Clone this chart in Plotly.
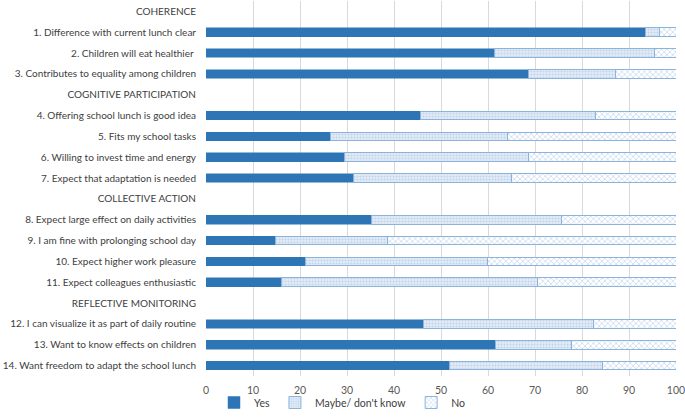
import plotly.graph_objects as go

categories = [
    "COHERENCE",
    "1. Difference with current lunch clear",
    "2. Children will eat healthier ",
    "3. Contributes to equality among children",
    "COGNITIVE PARTICIPATION",
    "4. Offering school lunch is good idea",
    "5. Fits my school tasks",
    "6. Willing to invest time and energy",
    "7. Expect that adaptation is needed",
    "COLLECTIVE ACTION",
    "8. Expect large effect on daily activities",
    "9. I am fine with prolonging school day",
    "10. Expect higher work pleasure",
    "11. Expect colleagues enthusiastic",
    "REFLECTIVE MONITORING",
    "12. I can visualize it as part of daily routine",
    "13. Want to know effects on children",
    "14. Want freedom to adapt the school lunch",
]
yes = [None, 93.6, 61.3, 68.6, None, 45.6, 26.5, 29.4, 31.3, None,
       35.3, 14.7, 21.1, 16.1, None, 46.2, 61.6, 51.8]
maybe = [None, 2.9, 34.2, 18.6, None, 37.3, 37.7, 39.2, 33.8, None,
         40.3, 24.0, 38.7, 54.5, None, 36.2, 16.2, 32.5]
no = [None, 3.5, 4.5, 12.8, None, 17.1, 35.8, 31.4, 34.9, None,
      24.4, 61.3, 40.2, 29.4, None, 17.6, 22.2, 15.7]
x_ticks = list(range(0, 101, 10))

FONT = "Lato, Carlito, sans-serif"

fig = go.Figure()
fig.add_trace(go.Bar(
    y=categories, x=yes, name="Yes", orientation="h",
    marker=dict(color="#2E75B6", line=dict(color="#2E75B6", width=0.5)),
))
fig.add_trace(go.Bar(
    y=categories, x=maybe, name="Maybe/ don't know", orientation="h",
    marker=dict(
        color="#DCE8F5",
        line=dict(color="#8DB3DD", width=1),
        pattern=dict(shape=".", fgcolor="#9BBCE0", bgcolor="#E3ECF7",
                     size=3, solidity=0.4),
    ),
))
fig.add_trace(go.Bar(
    y=categories, x=no, name="No", orientation="h",
    marker=dict(
        color="#FFFFFF",
        line=dict(color="#8DB3DD", width=1),
        pattern=dict(shape="x", fgcolor="#8DB3DD", bgcolor="#FFFFFF",
                     size=4, solidity=0.35),
    ),
))

fig.update_layout(
    barmode="stack",
    bargap=0.58,
    width=685, height=417,
    margin=dict(l=206, r=9, t=1, b=41, autoexpand=False),
    paper_bgcolor="white", plot_bgcolor="white",
    font=dict(family=FONT, size=10, color="#404040"),
    legend=dict(orientation="h", xref="container", yref="container",
                x=0.5, xanchor="center", y=-0.028, yanchor="bottom",
                bgcolor="rgba(0,0,0,0)",
                font=dict(family=FONT, size=10.5, color="#404040"),
                traceorder="normal", itemwidth=30),
    showlegend=True,
)
fig.update_xaxes(range=[0, 100], tickvals=x_ticks, showgrid=True,
                 gridcolor="#D9D9D9", gridwidth=1, zeroline=False,
                 tickfont=dict(family=FONT, color="#595959", size=10.5),
                 ticks="", showline=False, automargin=False,
                 ticklabelstandoff=6, ticklabeloverflow="allow")
fig.update_yaxes(categoryorder="array", categoryarray=categories,
                 autorange="reversed", showgrid=False, ticks="",
                 ticklabelstandoff=9, automargin=False,
                 ticklabeloverflow="allow",
                 tickfont=dict(family=FONT, color="#404040", size=10),
                 showline=False)

fig.write_html("out.html",
               config={"displayModeBar": False},
               post_script="document.body.style.margin='0';")
